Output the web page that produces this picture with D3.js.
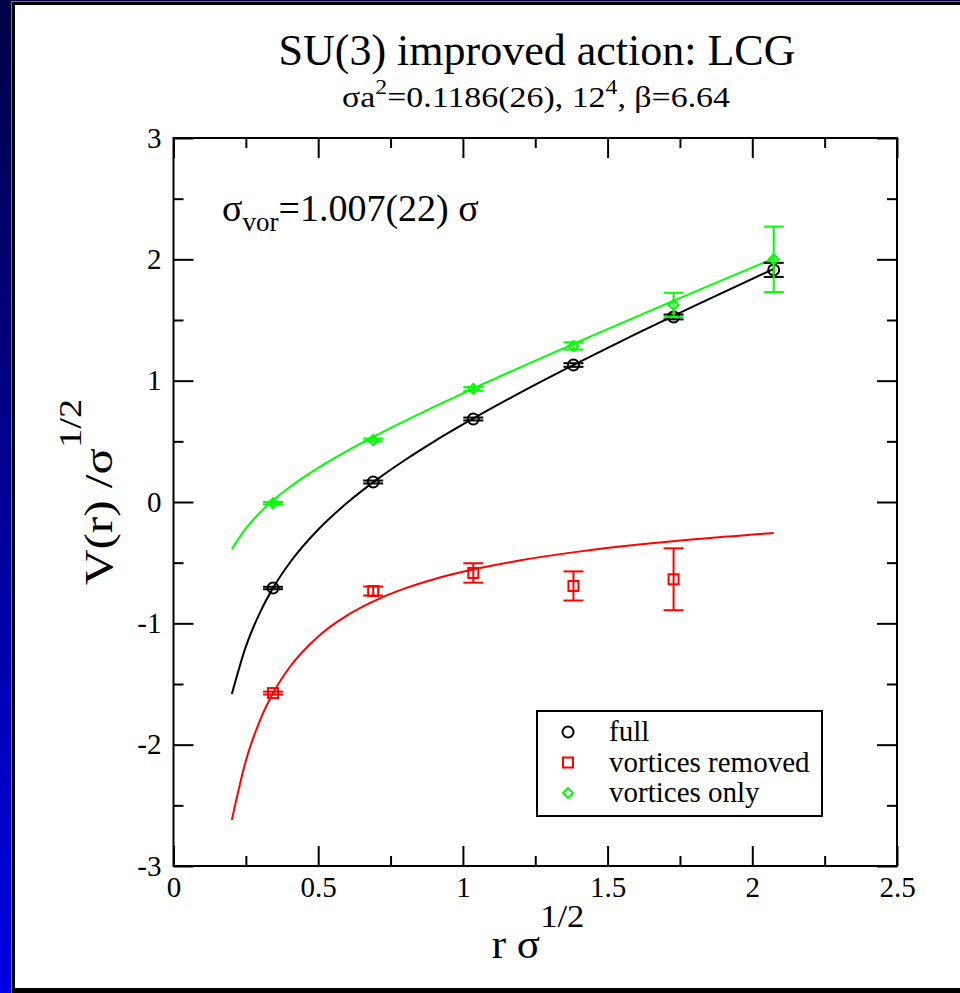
<!DOCTYPE html>
<html>
<head>
<meta charset="utf-8">
<script src="https://cdn.jsdelivr.net/npm/d3@7"></script>
<style>
  body { margin: 0; background: #000; }
  svg { display: block; }
  text { font-family: "Liberation Serif", "Times New Roman", serif; }
</style>
</head>
<body>
<svg id="chart" width="960" height="993"></svg>
<script>
// lattice separations r*sqrt(sigma)
const rValues = [0.344, 0.690, 1.036, 1.382, 1.728, 2.074];

// full configuration
const fullV = [-0.709, 0.165, 0.684, 1.129, 1.525, 1.913];
const fullErr = [0.010, 0.012, 0.012, 0.015, 0.020, 0.058];

// vortices removed
const removedV = [-1.575, -0.734, -0.585, -0.692, -0.637];
const removedErr = [0.012, 0.037, 0.080, 0.120, 0.255];

// vortices only
const onlyV = [-0.010, 0.511, 0.932, 1.286, 1.624, 2.000];
const onlyErr = [0.010, 0.012, 0.015, 0.030, 0.100, 0.270];

// fit curves
const fitR = [0.2017, 0.25, 0.3, 0.35, 0.4, 0.5, 0.6, 0.7, 0.8, 0.9, 1.0, 1.2, 1.4, 1.6, 1.8, 2.074];
const fitFull = [-1.582, -1.192, -0.905, -0.685, -0.507, -0.227, -0.007, 0.180, 0.346, 0.498, 0.639, 0.903, 1.150, 1.387, 1.616, 1.922];
const fitRemoved = [-2.620, -2.133, -1.793, -1.549, -1.366, -1.108, -0.934, -0.808, -0.712, -0.636, -0.575, -0.480, -0.409, -0.353, -0.307, -0.255];
const fitOnly = [-0.387, -0.218, -0.084, 0.026, 0.120, 0.281, 0.421, 0.549, 0.669, 0.784, 0.896, 1.112, 1.322, 1.528, 1.732, 2.008];

const xMajor = [0, 0.5, 1, 1.5, 2, 2.5];
const yMajor = [-3, -2, -1, 0, 1, 2, 3];

const legendLabels = ["full", "vortices removed", "vortices only"];

const svg = d3.select("#chart");

// page background + framed white panel
const defs = svg.append("defs");
const grad = defs.append("linearGradient")
    .attr("id", "bg").attr("x1", 0).attr("y1", 0).attr("x2", 0).attr("y2", 1);
grad.append("stop").attr("offset", "0%").attr("stop-color", "#000045");
grad.append("stop").attr("offset", "100%").attr("stop-color", "#0000e6");

svg.append("rect").attr("width", 960).attr("height", 993).attr("fill", "url(#bg)");
svg.append("rect").attr("x", 11).attr("y", 1).attr("width", 960).attr("height", 1000).attr("fill", "#777");
svg.append("rect").attr("x", 12).attr("y", 2).attr("width", 960).attr("height", 1000).attr("fill", "#000");
svg.append("rect").attr("x", 15).attr("y", 5).attr("width", 960).attr("height", 983).attr("fill", "#fff");

// plot area
const x = d3.scaleLinear().domain([0, 2.5]).range([173.5, 897]);
const y = d3.scaleLinear().domain([-3, 3]).range([866, 138]);

const xMinor = d3.range(0.25, 2.5, 0.5);
const yMinor = d3.range(-2.5, 3, 1);

function styleAxis(g){
    g.select(".domain").remove();
    g.selectAll(".tick line").attr("stroke", "#000").attr("stroke-width", 2);
    g.selectAll(".tick text")
        .attr("fill", "#000")
        .attr("font-size", 29)
        .attr("font-family", "Liberation Serif, Times New Roman, serif");
}

// bottom
svg.append("g").attr("transform", `translate(0,${y(-3)})`)
    .call(d3.axisBottom(x).tickValues(xMajor).tickSizeInner(-20).tickSizeOuter(0).tickPadding(10).tickFormat(d3.format("")))
    .call(styleAxis);
svg.append("g").attr("transform", `translate(0,${y(-3)})`)
    .call(d3.axisBottom(x).tickValues(xMinor).tickSizeInner(-10).tickSizeOuter(0).tickFormat(""))
    .call(styleAxis);
// top
svg.append("g").attr("transform", `translate(0,${y(3)})`)
    .call(d3.axisTop(x).tickValues(xMajor).tickSizeInner(-20).tickSizeOuter(0).tickFormat(""))
    .call(styleAxis);
svg.append("g").attr("transform", `translate(0,${y(3)})`)
    .call(d3.axisTop(x).tickValues(xMinor).tickSizeInner(-10).tickSizeOuter(0).tickFormat(""))
    .call(styleAxis);
// left
svg.append("g").attr("transform", `translate(${x(0)},0)`)
    .call(d3.axisLeft(y).tickValues(yMajor).tickSizeInner(-20).tickSizeOuter(0).tickPadding(12).tickFormat(d3.format("")))
    .call(styleAxis)
    .call(g => g.selectAll(".tick text").text(d => d < 0 ? "-" + Math.abs(d) : d));
svg.append("g").attr("transform", `translate(${x(0)},0)`)
    .call(d3.axisLeft(y).tickValues(yMinor).tickSizeInner(-10).tickSizeOuter(0).tickFormat(""))
    .call(styleAxis);
// right
svg.append("g").attr("transform", `translate(${x(2.5)},0)`)
    .call(d3.axisRight(y).tickValues(yMajor).tickSizeInner(-20).tickSizeOuter(0).tickFormat(""))
    .call(styleAxis);
svg.append("g").attr("transform", `translate(${x(2.5)},0)`)
    .call(d3.axisRight(y).tickValues(yMinor).tickSizeInner(-10).tickSizeOuter(0).tickFormat(""))
    .call(styleAxis);

// frame
svg.append("rect")
    .attr("x", x(0)).attr("y", y(3))
    .attr("width", x(2.5) - x(0)).attr("height", y(-3) - y(3))
    .attr("fill", "none").attr("stroke", "#000").attr("stroke-width", 2);

// fit lines
const line = d3.line().x(d => x(d[0])).y(d => y(d[1])).curve(d3.curveMonotoneX);
const fits = [
    { vals: fitOnly, color: "#00ff00" },
    { vals: fitFull, color: "#000000" },
    { vals: fitRemoved, color: "#ff0000" }
];
fits.forEach(f => {
    svg.append("path")
        .datum(fitR.map((r, i) => [r, f.vals[i]]))
        .attr("d", line)
        .attr("fill", "none")
        .attr("stroke", f.color)
        .attr("stroke-width", 2);
});

// error bars + symbols
function drawSeries(vals, errs, color, shape){
    const g = svg.append("g");
    vals.forEach((v, i) => {
        const cx = x(rValues[i]);
        const y1 = y(v + errs[i]), y2 = y(v - errs[i]);
        g.append("line").attr("x1", cx).attr("x2", cx).attr("y1", y1).attr("y2", y2)
            .attr("stroke", color).attr("stroke-width", 2);
        [y1, y2].forEach(yy => {
            g.append("line").attr("x1", cx - 10).attr("x2", cx + 10).attr("y1", yy).attr("y2", yy)
                .attr("stroke", color).attr("stroke-width", 2);
        });
        drawSymbol(g, shape, cx, y(v), color);
    });
}

function drawSymbol(g, shape, cx, cy, color){
    if(shape === "circle"){
        g.append("circle").attr("cx", cx).attr("cy", cy).attr("r", 5.5)
            .attr("fill", "none").attr("stroke", color).attr("stroke-width", 2);
    } else if(shape === "square"){
        g.append("rect").attr("x", cx - 5).attr("y", cy - 5).attr("width", 10).attr("height", 10)
            .attr("fill", "none").attr("stroke", color).attr("stroke-width", 2);
    } else {
        g.append("path").attr("d", `M${cx},${cy - 5}L${cx + 5},${cy}L${cx},${cy + 5}L${cx - 5},${cy}Z`)
            .attr("fill", "none").attr("stroke", color).attr("stroke-width", 2);
    }
}

drawSeries(fullV, fullErr, "#000000", "circle");
drawSeries(removedV, removedErr, "#ff0000", "square");
drawSeries(onlyV, onlyErr, "#00ff00", "diamond");

// titles
svg.append("text").attr("x", 537).attr("y", 65).attr("text-anchor", "middle")
    .attr("font-size", 44).text("SU(3) improved action: LCG");

// subtitle, stretched a bit to match the original's wide glyphs
const sub = svg.append("g").attr("transform", "translate(536,107) scale(1.13,1)")
    .append("text").attr("text-anchor", "middle").attr("font-size", 30);
sub.append("tspan").text("σa");
sub.append("tspan").attr("dy", -13).attr("font-size", 21).text("2");
sub.append("tspan").attr("dy", 13).text("=0.1186(26), 12");
sub.append("tspan").attr("dy", -13).attr("font-size", 21).text("4");
sub.append("tspan").attr("dy", 13).text(", β=6.64");

// annotation
const ann = svg.append("text").attr("x", 222).attr("y", 221).attr("font-size", 38);
ann.append("tspan").text("σ");
ann.append("tspan").attr("dy", 10).attr("font-size", 27).text("vor");
ann.append("tspan").attr("dy", -10).text("=1.007(22) σ");

// axis labels
const xl = svg.append("g").attr("transform", "translate(538,958) scale(1.08,1)")
    .append("text").attr("text-anchor", "middle").attr("font-size", 40);
xl.append("tspan").text("r σ");
xl.append("tspan").attr("dy", -31).attr("font-size", 32).text("1/2");

const yl = svg.append("g").attr("transform", "translate(112,492) rotate(-90) scale(1.2,1)")
    .append("text").attr("text-anchor", "middle").attr("font-size", 41);
yl.append("tspan").text("V(r) /σ");
yl.append("tspan").attr("dy", -31).attr("font-size", 32).text("1/2");

// legend
svg.append("rect").attr("x", 537).attr("y", 711).attr("width", 285).attr("height", 105)
    .attr("fill", "#fff").attr("stroke", "#000").attr("stroke-width", 2);
const legendColors = ["#000000", "#ff0000", "#00ff00"];
const legendShapes = ["circle", "square", "diamond"];
legendLabels.forEach((lab, i) => {
    const cy = 732 + i * 30.5;
    drawSymbol(svg, legendShapes[i], 568, cy, legendColors[i]);
    svg.append("text").attr("x", 609).attr("y", cy + 9).attr("font-size", 29).text(lab);
});
</script>
</body>
</html>
